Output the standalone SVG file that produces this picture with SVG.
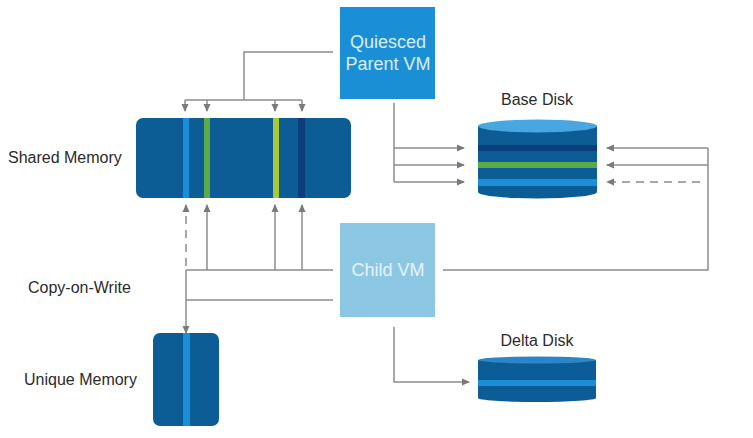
<svg xmlns="http://www.w3.org/2000/svg" width="753" height="438" viewBox="0 0 753 438">
<style>
.lbl{font-family:"Liberation Sans",Arial,sans-serif;font-size:16px;fill:#2b2b2b}
.box{font-family:"Liberation Sans",Arial,sans-serif;font-size:18px;text-anchor:middle}
.ln{fill:none;stroke:#8c8c8c;stroke-width:1.5}
.ar{marker-end:url(#ah)}
.dash{stroke-dasharray:8 6}
</style>
<defs>
<marker id="ah" markerUnits="userSpaceOnUse" markerWidth="8" markerHeight="8" viewBox="0 0 8 8" refX="7" refY="4" orient="auto">
<path d="M0,0.5 L8,4 L0,7.5 Z" fill="#7a7a7a"/>
</marker>
</defs>
<rect width="753" height="438" fill="#ffffff"/>

<g id="connectors">
<!-- parent to shared memory -->
<polyline class="ln" points="333,52 244,52 244,100"/>
<line class="ln" x1="185" y1="100" x2="302" y2="100"/>
<line class="ln ar" x1="185" y1="100" x2="185" y2="111"/>
<line class="ln ar" x1="207" y1="100" x2="207" y2="111"/>
<line class="ln ar" x1="275" y1="100" x2="275" y2="111"/>
<line class="ln ar" x1="302" y1="100" x2="302" y2="111"/>
<!-- parent to base disk -->
<line class="ln" x1="394" y1="103" x2="394" y2="182"/>
<line class="ln ar" x1="394" y1="148" x2="464" y2="148"/>
<line class="ln ar" x1="394" y1="165" x2="464" y2="165"/>
<line class="ln ar" x1="394" y1="182" x2="464" y2="182"/>
<!-- child to base disk -->
<polyline class="ln" points="443,270 708,270 708,148"/>
<line class="ln ar" x1="708" y1="148" x2="607" y2="148"/>
<line class="ln ar" x1="708" y1="165" x2="607" y2="165"/>
<line class="ln ar dash" x1="700" y1="182" x2="607" y2="182"/>
<!-- child to shared memory -->
<line class="ln" x1="333" y1="270" x2="186" y2="270"/>
<line class="ln ar" x1="207" y1="270" x2="207" y2="205"/>
<line class="ln ar" x1="275" y1="270" x2="275" y2="205"/>
<line class="ln ar" x1="302" y1="270" x2="302" y2="205"/>
<line class="ln ar dash" x1="186" y1="266" x2="186" y2="205"/>
<!-- copy-on-write -->
<line class="ln" x1="333" y1="300" x2="186" y2="300"/>
<line class="ln ar" x1="186" y1="270" x2="186" y2="333"/>
<!-- child to delta disk -->
<polyline class="ln ar" points="394,327 394,382 469,382"/>
</g>

<g id="parent-vm">
<rect x="340" y="7" width="95" height="92" fill="#1b8fd5"/>
<text class="box" x="388" y="48" fill="#d9eefb">Quiesced</text>
<text class="box" x="388" y="70" fill="#d9eefb">Parent VM</text>
</g>

<g id="child-vm">
<rect x="340" y="223" width="95" height="94" fill="#8cc7e4"/>
<text class="box" x="388" y="276" fill="#e6f4fb">Child VM</text>
</g>

<g id="shared-memory">
<rect x="136" y="118" width="215" height="80" rx="7" fill="#0c5d95"/>
<rect x="183" y="118" width="6" height="80" fill="#1a8fd8"/>
<rect x="204" y="118" width="6" height="80" fill="#5aab47"/>
<rect x="273" y="118" width="6" height="80" fill="#a6c83c"/>
<rect x="298" y="118" width="7" height="80" fill="#0d3e7c"/>
<text class="lbl" x="8" y="163">Shared Memory</text>
</g>

<g id="unique-memory">
<rect x="153" y="333" width="66" height="93" rx="7" fill="#0c5d95"/>
<rect x="183" y="333" width="7" height="93" fill="#1a8fd8"/>
<text class="lbl" x="24" y="385">Unique Memory</text>
</g>

<g id="copy-on-write-label">
<text class="lbl" x="28" y="293">Copy-on-Write</text>
</g>

<g id="base-disk">
<path d="M478,126 L478,192 A59.5,6.5 0 0 0 597,192 L597,126 Z" fill="#0c5d95"/>
<rect x="478" y="145" width="119" height="6" fill="#0d3e7c"/>
<rect x="478" y="162" width="119" height="6" fill="#5aab47"/>
<rect x="478" y="179" width="119" height="7" fill="#1a8fd8"/>
<ellipse cx="537.5" cy="126" rx="59.5" ry="6.5" fill="#4aa6e0"/>
<text class="lbl" x="537" y="105" text-anchor="middle">Base Disk</text>
</g>

<g id="delta-disk">
<path d="M478,360 L478,398 A59,4 0 0 0 596,398 L596,360 Z" fill="#0c5d95"/>
<rect x="478" y="380" width="118" height="6" fill="#1a8fd8"/>
<ellipse cx="537" cy="360" rx="59" ry="3.5" fill="#2a86c8"/>
<text class="lbl" x="537" y="346" text-anchor="middle">Delta Disk</text>
</g>
</svg>
